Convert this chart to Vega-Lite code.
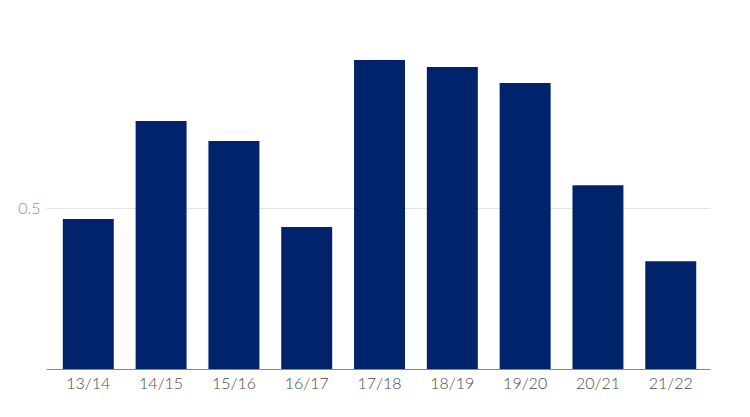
{
  "$schema": "https://vega.github.io/schema/vega-lite/v6.json",
  "width": 664,
  "height": 322,
  "autosize": {"type": "none"},
  "padding": {"left": 46, "top": 47, "right": 40, "bottom": 48},
  "background": "white",
  "config": {"view": {"stroke": null}, "font": "Lato"},
  "data": {
    "values": [
      {"season": "13/14", "value": 0.466},
      {"season": "14/15", "value": 0.770},
      {"season": "15/16", "value": 0.708},
      {"season": "16/17", "value": 0.441},
      {"season": "17/18", "value": 0.960},
      {"season": "18/19", "value": 0.938},
      {"season": "19/20", "value": 0.888},
      {"season": "20/21", "value": 0.571},
      {"season": "21/22", "value": 0.335}
    ]
  },
  "mark": {"type": "bar", "color": "#00236b"},
  "encoding": {
    "x": {
      "field": "season",
      "type": "nominal",
      "sort": null,
      "scale": {"paddingInner": 0.3, "paddingOuter": 0.21, "align": 0.55},
      "axis": {
        "title": null,
        "labelAngle": 0,
        "ticks": false,
        "domainColor": "#888888",
        "domainWidth": 1,
        "labelFontSize": 16,
        "labelColor": "#4a4a4a",
        "labelPadding": 6,
        "labelFontWeight": 300
      }
    },
    "y": {
      "field": "value",
      "type": "quantitative",
      "scale": {"domain": [0, 1]},
      "axis": {
        "title": null,
        "values": [0.5],
        "format": ".1f",
        "domain": false,
        "ticks": false,
        "gridColor": "#e3e3e3",
        "labelFontSize": 16,
        "labelColor": "#8f8f8f",
        "labelPadding": 6,
        "labelFontWeight": 300
      }
    }
  }
}
